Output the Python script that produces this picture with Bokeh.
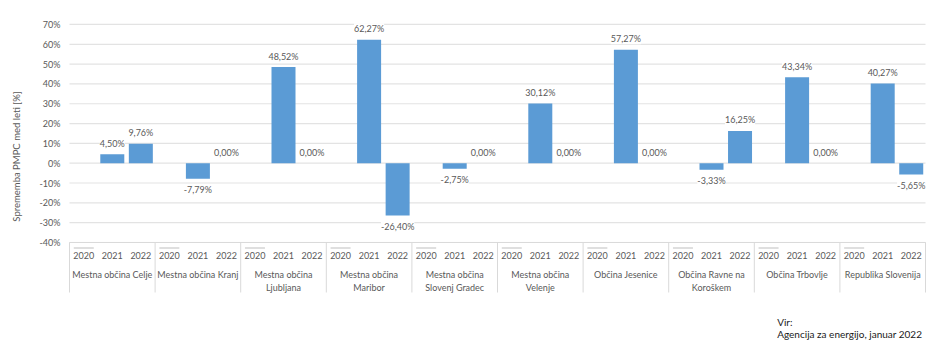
import numpy as np
from bokeh.plotting import figure
from bokeh.models import ColumnDataSource, LabelSet, Range1d
from bokeh.core.properties import value
from bokeh.embed import file_html
from bokeh.resources import INLINE

# ---- data ----
groups = ["Mestna občina Celje", "Mestna občina Kranj", "Mestna občina\nLjubljana",
          "Mestna občina\nMaribor", "Mestna občina\nSlovenj Gradec", "Mestna občina\nVelenje",
          "Občina Jesenice", "Občina Ravne na\nKoroškem", "Občina Trbovlje", "Republika Slovenija"]
years = ["2020", "2021", "2022"]
v2021 = [4.50, -7.79, 48.52, 62.27, -2.75, 30.12, 57.27, -3.33, 43.34, 40.27]
v2022 = [9.76, 0.00, 0.00, -26.40, 0.00, 0.00, 0.00, 16.25, 0.00, -5.65]
y_ticks = [-40, -30, -20, -10, 0, 10, 20, 30, 40, 50, 60, 70]
y_title = "Sprememba PMPC med leti [%]"
source_lines = ["Vir:", "Agencija za energijo, januar 2022"]

FONT = value("Lato")
GREY = "#595959"
BAR = "#5B9BD5"

n = len(groups)
# pixel mapping helpers (frame covers whole 940x354 canvas)
px_per_group = 85.6
x0_px = 69.0
zero_px = 162.7
px_per_pct = 1.982
def gx(px):
    return (px - x0_px) / px_per_group
def gy(py):
    return (zero_px - py) / px_per_pct

p = figure(width=940, height=354, output_backend="svg", toolbar_location=None,
           title=None, min_border=0, min_border_left=0, min_border_right=0,
           min_border_top=0, min_border_bottom=0)
p.x_range = Range1d(gx(0), gx(940))
p.y_range = Range1d(gy(354), gy(0))
p.xaxis.visible = False
p.yaxis.visible = False
p.xgrid.visible = False
p.ygrid.visible = False
p.outline_line_color = None
p.background_fill_color = "white"
p.border_fill_color = "white"

# gridlines
p.segment(x0=[0] * len(y_ticks), x1=[n] * len(y_ticks), y0=y_ticks, y1=y_ticks,
          line_color="#E3E3E3", line_width=1.2)

# y tick labels
p.text(x=[gx(60)] * len(y_ticks), y=y_ticks, text=[f"{t}%" for t in y_ticks],
       text_align="right", text_baseline="middle", text_font=FONT,
       text_font_size="9px", text_color=GREY)

# y title
p.text(x=[gx(16)], y=[gy(156)], text=[y_title], angle=np.pi / 2,
       text_align="center", text_baseline="middle", text_font=FONT,
       text_font_size="9.5px", text_color=GREY)

# bars
slot = 1.0 / 3
bw = 24.0 / px_per_group
xs, vals = [], []
for i in range(n):
    for j, arr in ((1, v2021), (2, v2022)):
        xs.append(i + (j + 0.5) * slot)
        vals.append(arr[i])
p.vbar(x=xs, top=vals, bottom=0, width=bw, fill_color=BAR, line_color=None)

labels = [f"{v:.2f}".replace(".", ",") + "%" for v in vals]
offs = [-11 if v < 0 else 11 for v in vals]
lsrc = ColumnDataSource(dict(x=xs, y=vals, text=labels, yo=offs))
p.add_layout(LabelSet(x="x", y="y", text="text", y_offset="yo", source=lsrc,
                      text_align="center", text_baseline="middle",
                      text_font=FONT, text_font_size="9px", text_color=GREY,
                      background_fill_color="white", background_fill_alpha=1.0))

# category axis box
box_bottom = gy(292)
p.segment(x0=list(range(n + 1)), x1=list(range(n + 1)), y0=[y_ticks[0]] * (n + 1),
          y1=[box_bottom] * (n + 1), line_color="#D9D9D9", line_width=1)
p.segment(x0=[0], x1=[n], y0=[y_ticks[0]], y1=[y_ticks[0]], line_color="#D9D9D9", line_width=1)

yx, yy, yt = [], [], []
ox0, ox1 = [], []
for i in range(n):
    for j, yr in enumerate(years):
        yx.append(i + (j + 0.5) * slot)
        yt.append(yr)
    c = i + 0.5 * slot
    ox0.append(c - 10 / px_per_group)
    ox1.append(c + 10 / px_per_group)
p.text(x=yx, y=[gy(254.5)] * len(yx), text=yt, text_align="center", text_baseline="middle",
       text_font=FONT, text_font_size="9px", text_color=GREY)
p.segment(x0=ox0, x1=ox1, y0=[gy(247.5)] * n, y1=[gy(247.5)] * n,
          line_color="#BFBFBF", line_width=1)

gx_, gy_, gt_ = [], [], []
for i, g in enumerate(groups):
    for k, line in enumerate(g.split("\n")):
        gx_.append(i + 0.5)
        gy_.append(gy(274.3 + k * 12.4))
        gt_.append(line)
p.text(x=gx_, y=gy_, text=gt_, text_align="center", text_baseline="middle",
       text_font=FONT, text_font_size="9px", text_color=GREY)

# source note
p.text(x=[gx(776.7)] * 2, y=[gy(321.7), gy(333.3)], text=source_lines,
       text_align="left", text_baseline="middle", text_font=FONT,
       text_font_size="10px", text_color="#1a1a1a")

open("out.html", "w").write(file_html(p, INLINE))
